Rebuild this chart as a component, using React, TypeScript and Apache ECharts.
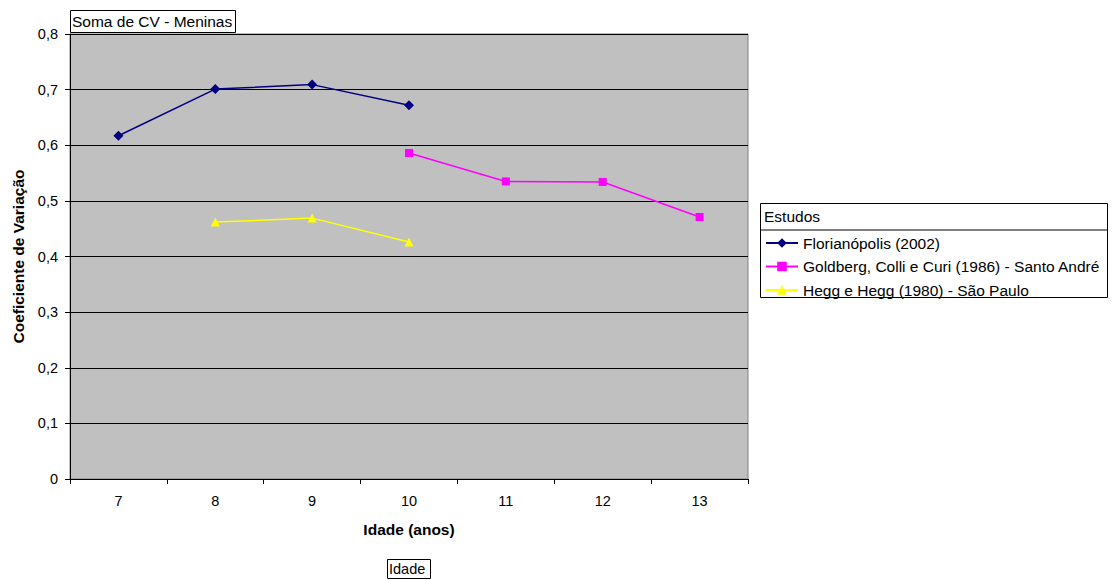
import React, { useEffect, useRef } from "react";
import * as echarts from "echarts";

const categories = ["7", "8", "9", "10", "11", "12", "13"];
const florianopolis = [0.617, 0.701, 0.709, 0.672, null, null, null];
const goldberg = [null, null, null, 0.586, 0.535, 0.534, 0.471];
const hegg = [null, 0.462, 0.469, 0.426, null, null, null];
const seriesNames = [
  "Florianópolis (2002)",
  "Goldberg, Colli e Curi (1986) - Santo André",
  "Hegg e Hegg (1980) - São Paulo",
];

const FONT = "Liberation Sans, Arial, sans-serif";

export default function App() {
  const ref = useRef<HTMLDivElement>(null);
  useEffect(() => {
    if (!ref.current) return;
    const chart = echarts.init(ref.current, undefined, { renderer: "svg" });
    chart.setOption({
      animation: false,
      textStyle: { fontFamily: FONT },
      grid: {
        left: 70,
        top: 34,
        right: 366,
        bottom: 101,
        show: true,
        backgroundColor: "#C0C0C0",
        borderColor: "#808080",
        borderWidth: 1,
      },
      xAxis: {
        type: "category",
        data: categories,
        boundaryGap: true,
        name: "Idade (anos)",
        nameLocation: "middle",
        nameGap: 42,
        nameTextStyle: { fontFamily: FONT, fontSize: 15.5, fontWeight: "bold", color: "#000" },
        axisLine: { lineStyle: { color: "#000", width: 1 } },
        axisTick: { show: true, length: 5, inside: false, lineStyle: { color: "#000" } },
        axisLabel: { fontFamily: FONT, fontSize: 14.5, color: "#000", margin: 14 },
        splitLine: { show: false },
      },
      yAxis: {
        type: "value",
        min: 0,
        max: 0.8,
        interval: 0.1,
        name: "Coeficiente de Variação",
        nameLocation: "middle",
        nameGap: 44,
        nameTextStyle: { fontFamily: FONT, fontSize: 15.5, fontWeight: "bold", color: "#000" },
        axisLine: { show: true, lineStyle: { color: "#000", width: 1 } },
        axisTick: { show: true, length: 5, lineStyle: { color: "#000" } },
        axisLabel: {
          fontFamily: FONT,
          fontSize: 14.5,
          color: "#000",
          margin: 12,
          formatter: (v: number) => (v === 0 ? "0" : v.toFixed(1).replace(".", ",")),
        },
        splitLine: { show: true, lineStyle: { color: "#000", width: 1 } },
      },
      legend: {
        orient: "vertical",
        left: 765,
        top: 235,
        padding: 0,
        itemWidth: 32,
        itemHeight: 12,
        itemGap: 7.5,
        textStyle: { fontFamily: FONT, fontSize: 15.5, lineHeight: 16, color: "#000" },
        data: seriesNames,
      },
      series: [
        {
          name: seriesNames[0],
          type: "line",
          data: florianopolis,
          color: "#000080",
          symbol: "diamond",
          symbolSize: 10,
          lineStyle: { color: "#000080", width: 1.5 },
          itemStyle: { color: "#000080" },
        },
        {
          name: seriesNames[1],
          type: "line",
          data: goldberg,
          color: "#FF00FF",
          symbol: "rect",
          symbolSize: 8,
          lineStyle: { color: "#FF00FF", width: 1.5 },
          itemStyle: { color: "#FF00FF" },
        },
        {
          name: seriesNames[2],
          type: "line",
          data: hegg,
          color: "#FFFF00",
          symbol: "triangle",
          symbolSize: 9,
          lineStyle: { color: "#FFFF00", width: 1.5 },
          itemStyle: { color: "#FFFF00" },
        },
      ],
      graphic: [
        {
          type: "rect",
          left: 70,
          top: 10,
          shape: { width: 165, height: 22 },
          style: { fill: "#fff", stroke: "#000", lineWidth: 1 },
          z: 10,
        },
        {
          type: "text",
          left: 72,
          top: 13,
          style: { text: "Soma de CV - Meninas", font: `15.5px ${FONT}`, fill: "#000" },
          z: 11,
        },
        {
          type: "rect",
          left: 760,
          top: 203,
          shape: { width: 347, height: 94 },
          style: { fill: "#fff", stroke: "#000", lineWidth: 1 },
          z: -1,
        },
        {
          type: "line",
          shape: { x1: 760, y1: 230, x2: 1107, y2: 230 },
          style: { stroke: "#000", lineWidth: 1 },
          z: 0,
        },
        {
          type: "text",
          left: 764,
          top: 208,
          style: { text: "Estudos", font: `15.5px ${FONT}`, fill: "#000" },
          z: 1,
        },
        {
          type: "rect",
          left: 387,
          top: 559,
          shape: { width: 43, height: 19 },
          style: { fill: "#fff", stroke: "#000", lineWidth: 1 },
        },
        {
          type: "text",
          left: 389,
          top: 561,
          style: { text: "Idade", font: `14.5px ${FONT}`, fill: "#000" },
        },
      ],
    });
    return () => chart.dispose();
  }, []);
  return (
    <div
      ref={ref}
      style={{ position: "fixed", left: 0, top: 0, width: 1114, height: 580, background: "#fff" }}
    />
  );
}
